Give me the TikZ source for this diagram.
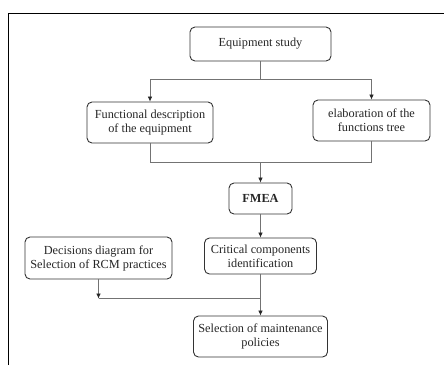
\documentclass[tikz,border=0pt]{standalone}
\usepackage{fontspec}
\setmainfont{Liberation Serif}
\usetikzlibrary{positioning}
\usetikzlibrary{arrows.meta}

\begin{document}
\begin{tikzpicture}[x=1pt,y=1pt,on grid,auto,>={Latex[length=5pt,width=4.5pt,color=black!85]},
    box/.style={draw=black!80,line width=0.9pt,rounded corners=5pt,align=center,
      text=black!85,font=\fontsize{12.3}{14}\selectfont},
    link/.style={draw=black!55,line width=0.7pt}]
        \useasboundingbox (0,0) rectangle (444,-365);
        \draw[line width=0.9pt] (8,-365) |- (444,-13);

        \node[box,minimum width=141pt,minimum height=34pt] (study) at (260.5,-44) {Equipment study};

        \node[box,minimum width=126pt,minimum height=41pt] (func) [below left=78.5pt and 110.5pt of study] {Functional description\\of the equipment};
        \node[box,minimum width=117pt,minimum height=41pt] (elab) [below right=76.5pt and 111pt of study] {elaboration of the\\functions tree};

        \node[box,minimum width=63pt,minimum height=31pt] (fmea) [below=154.5pt of study] {\textbf{FMEA}};
        \node[box,minimum width=112pt,minimum height=36pt] (crit) [below=57.5pt of fmea] {Critical components\\identification};
        \node[box,minimum width=147pt,minimum height=42pt] (deci) [left=162pt of crit, yshift=-2pt] {Decisions diagram for\\Selection of RCM practices};
        \node[box,minimum width=134pt,minimum height=41pt] (sel) [below=80.5pt of crit] {Selection of maintenance\\policies};

        \coordinate[below=35pt of study] (split);
        \coordinate[above=36pt of fmea] (merge);
        \coordinate[above=38pt of sel] (join);
        \coordinate (djoin) at (deci |- join);

        \draw[link] (study) -- (split);
        \draw[link,->] (split) -| (func);
        \draw[link,->] (split) -| (elab);
        \draw[link] (func) |- (merge);
        \draw[link] (elab) |- (merge);
        \draw[link,->] (merge) -- (fmea);
        \draw[link,->] (fmea) -- (crit);
        \draw[link,->] (crit) -- (sel);
        \draw[link,->] (deci) -- (djoin);
        \draw[link] (djoin) -- (join);
\end{tikzpicture}
\end{document}
